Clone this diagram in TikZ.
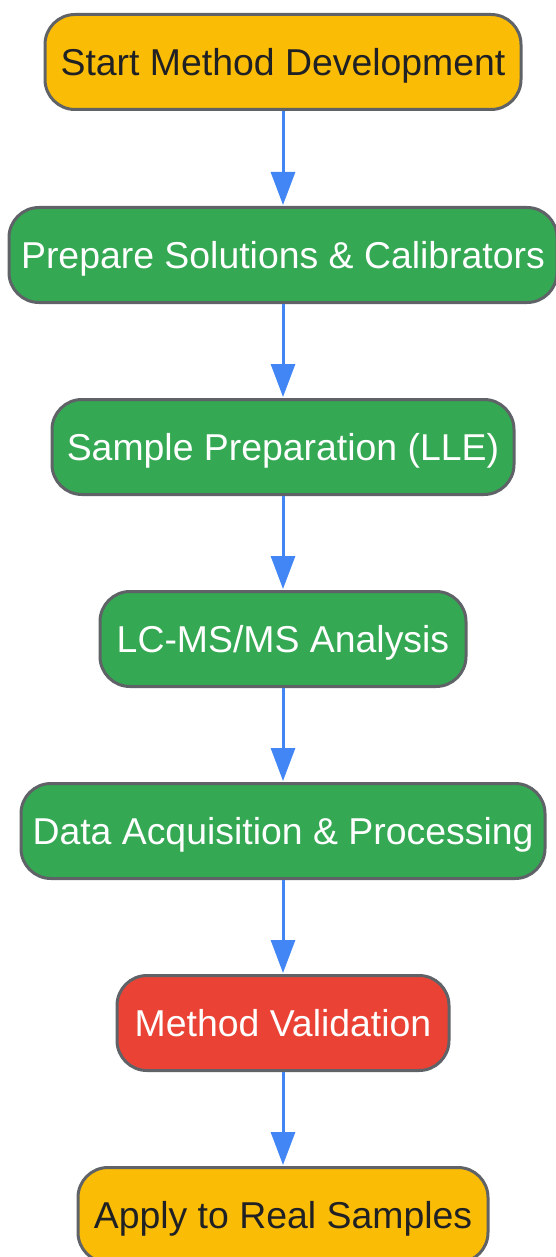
\documentclass[tikz,border=0pt]{standalone}
\usepackage{fontspec}
\setmainfont{Liberation Sans}
\usetikzlibrary{arrows.meta}
\definecolor{gyellow}{HTML}{FBBC05}
\definecolor{ggreen}{HTML}{34A853}
\definecolor{gred}{HTML}{EA4335}
\definecolor{gblue}{HTML}{4285F4}
\definecolor{gborder}{HTML}{5F6368}
\definecolor{gtext}{HTML}{202124}
\begin{document}
\begin{tikzpicture}[x=1pt,y=-1pt,
  box/.style={draw=gborder, line width=3pt, rounded corners=30pt, minimum height=95pt, inner sep=0pt,
    text depth=0pt, font=\fontsize{37.4}{40}\selectfont},
  ybox/.style={box, fill=gyellow, text=gtext},
  gbox/.style={box, fill=ggreen, text=white},
  rbox/.style={box, fill=gred, text=white},
  arr/.style={draw=gblue, line width=3pt, -{Triangle[width=24pt,length=33pt]}, shorten >=1pt}]
\useasboundingbox (0,0) rectangle (555,1257);
\node[ybox, minimum width=476pt] (n1) at (283,62) {Start Method Development};
\node[gbox, minimum width=548pt] (n2) at (283,255) {Prepare Solutions \& Calibrators};
\node[gbox, minimum width=462pt] (n3) at (283,447) {Sample Preparation (LLE)};
\node[gbox, minimum width=366pt] (n4) at (283,639) {LC-MS/MS Analysis};
\node[gbox, minimum width=524pt] (n5) at (283,831) {Data Acquisition \& Processing};
\node[rbox, minimum width=332pt] (n6) at (283,1023) {Method Validation};
\node[ybox, minimum width=410pt] (n7) at (283,1215) {Apply to Real Samples};
\draw[arr] (n1) -- (n2);
\draw[arr] (n2) -- (n3);
\draw[arr] (n3) -- (n4);
\draw[arr] (n4) -- (n5);
\draw[arr] (n5) -- (n6);
\draw[arr] (n6) -- (n7);
\end{tikzpicture}
\end{document}
